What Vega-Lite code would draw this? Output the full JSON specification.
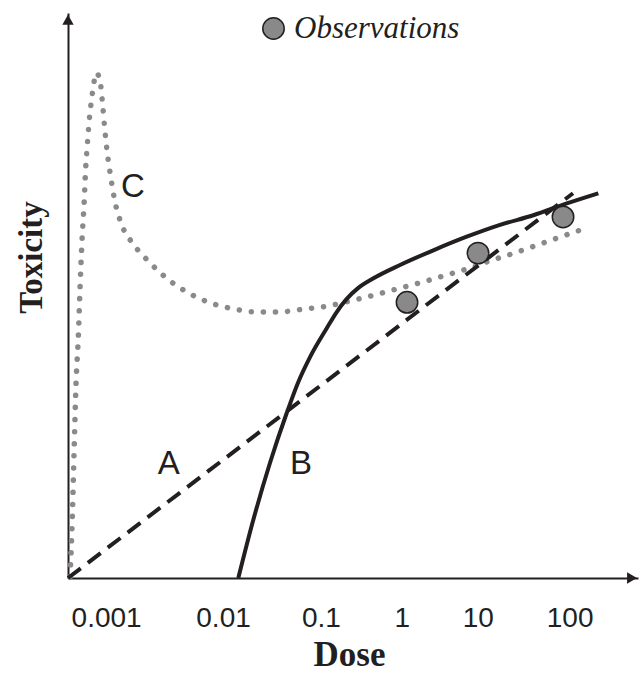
{
  "$schema": "https://vega.github.io/schema/vega-lite/v6.json",
  "width": 570,
  "height": 565,
  "autosize": {"type": "none"},
  "padding": {"left": 68, "top": 13, "right": 1, "bottom": 95},
  "background": "white",
  "config": {"view": {"stroke": null}, "axis": {"grid": false}},
  "datasets": {
    "curveA": [
      {"dose": 0.000267, "tox": 0},
      {"dose": 96.0, "tox": 68.1}
    ],
    "curveB": [
      {"dose": 0.01996, "tox": 0},
      {"dose": 0.0292, "tox": 10.3},
      {"dose": 0.04458, "tox": 20.4},
      {"dose": 0.06804, "tox": 29.2},
      {"dose": 0.09128, "tox": 34.7},
      {"dose": 0.1228, "tox": 39.1},
      {"dose": 0.1875, "tox": 44.2},
      {"dose": 0.2372, "tox": 46.9},
      {"dose": 0.311, "tox": 49.4},
      {"dose": 0.4142, "tox": 51.3},
      {"dose": 0.6055, "tox": 53.0},
      {"dose": 1.2, "tox": 55.4},
      {"dose": 2.79, "tox": 58.0},
      {"dose": 6.501, "tox": 60.4},
      {"dose": 15.11, "tox": 62.5},
      {"dose": 35.13, "tox": 64.2},
      {"dose": 81.88, "tox": 66.3},
      {"dose": 182.3, "tox": 68.1}
    ],
    "curveC": [
      {"dose": 0.000281, "tox": 0.2},
      {"dose": 0.000298, "tox": 10.8},
      {"dose": 0.000313, "tox": 23.7},
      {"dose": 0.000327, "tox": 34.3},
      {"dose": 0.000347, "tox": 42.8},
      {"dose": 0.000362, "tox": 51.3},
      {"dose": 0.000381, "tox": 59.8},
      {"dose": 0.000401, "tox": 66.2},
      {"dose": 0.000418, "tox": 72.6},
      {"dose": 0.000436, "tox": 76.8},
      {"dose": 0.000458, "tox": 81.1},
      {"dose": 0.000491, "tox": 85.3},
      {"dose": 0.000512, "tox": 87.4},
      {"dose": 0.000547, "tox": 89.4},
      {"dose": 0.000601, "tox": 88.0},
      {"dose": 0.000643, "tox": 83.7},
      {"dose": 0.000677, "tox": 79.5},
      {"dose": 0.000723, "tox": 75.2},
      {"dose": 0.000788, "tox": 71.0},
      {"dose": 0.000872, "tox": 66.8},
      {"dose": 0.001031, "tox": 62.7},
      {"dose": 0.001397, "tox": 59.1},
      {"dose": 0.0021, "tox": 55.9},
      {"dose": 0.00328, "tox": 53.0},
      {"dose": 0.00545, "tox": 50.6},
      {"dose": 0.00943, "tox": 48.8},
      {"dose": 0.01689, "tox": 47.7},
      {"dose": 0.031, "tox": 47.1},
      {"dose": 0.057, "tox": 47.1},
      {"dose": 0.1047, "tox": 47.6},
      {"dose": 0.1875, "tox": 48.1},
      {"dose": 0.3531, "tox": 49.1},
      {"dose": 0.637, "tox": 50.1},
      {"dose": 1.132, "tox": 51.2},
      {"dose": 2.043, "tox": 52.3},
      {"dose": 3.659, "tox": 53.5},
      {"dose": 6.501, "tox": 54.7},
      {"dose": 11.53, "tox": 56.1},
      {"dose": 20.64, "tox": 57.4},
      {"dose": 36.67, "tox": 58.8},
      {"dose": 65.19, "tox": 60.2},
      {"dose": 116.7, "tox": 61.6}
    ],
    "observations": [
      {"dose": 1.433, "tox": 48.8, "series": "Observations"},
      {"dose": 8.656, "tox": 57.5, "series": "Observations"},
      {"dose": 74.56, "tox": 63.9, "series": "Observations"}
    ],
    "labels": [
      {"dose": 0.001387, "tox": 69.2, "label": "C"},
      {"dose": 0.003424, "tox": 20.2, "label": "A"},
      {"dose": 0.0977, "tox": 20.1, "label": "B"}
    ],
    "yArrow": [{"dose": 0.000267, "tox": 98.8}],
    "xArrow": [{"dose": 428, "tox": 0}]
  },
  "encoding": {
    "x": {
      "field": "dose",
      "type": "quantitative",
      "scale": {"type": "log", "domain": [0.000267, 498], "nice": false},
      "axis": {
        "title": "Dose",
        "values": [0.001, 0.01, 0.1, 1, 10, 100],
        "labelExpr": "datum.value >= 1 ? format(datum.value, 'd') : format(datum.value, '.1~r')",
        "ticks": false,
        "tickSize": 0,
        "domainColor": "#231f20",
        "domainWidth": 2,
        "labelFont": "Liberation Sans",
        "labelFontSize": 28,
        "labelColor": "#231f20",
        "labelBaseline": "alphabetic",
        "labelPadding": 48,
        "labelFlush": false,
        "labelOverlap": false,
        "labelOffset": {
          "condition": [
            {"test": "datum.value < 0.005", "value": -14},
            {"test": "datum.value < 0.05", "value": 12},
            {"test": "datum.value < 0.5", "value": 19},
            {"test": "datum.value < 5", "value": 9},
            {"test": "datum.value < 50", "value": -6}
          ],
          "value": -5
        },
        "titleFont": "Liberation Serif",
        "titleFontWeight": "bold",
        "titleFontSize": 35,
        "titleColor": "#231f20",
        "titleBaseline": "alphabetic",
        "titleAnchor": "start",
        "titleAlign": "center",
        "titleX": 281,
        "titleY": 87
      }
    },
    "y": {
      "field": "tox",
      "type": "quantitative",
      "scale": {"domain": [0, 100], "nice": false},
      "axis": {
        "title": "Toxicity",
        "labels": false,
        "ticks": false,
        "tickSize": 0,
        "domainColor": "#231f20",
        "domainWidth": 2,
        "titleFont": "Liberation Serif",
        "titleFontWeight": "bold",
        "titleFontSize": 33,
        "titleColor": "#231f20",
        "titleAngle": -90,
        "titleBaseline": "alphabetic",
        "titleAlign": "center",
        "titleAnchor": "start",
        "titleX": -27,
        "titleY": 244
      }
    }
  },
  "layer": [
    {
      "data": {"name": "curveC"},
      "mark": {"type": "line", "color": "#8a8a8a", "strokeWidth": 5.5, "strokeCap": "round", "strokeDash": [0.1, 12], "interpolate": "monotone", "clip": false}
    },
    {
      "data": {"name": "curveA"},
      "mark": {"type": "line", "color": "#231f20", "strokeWidth": 4, "strokeDash": [16, 9]}
    },
    {
      "data": {"name": "curveB"},
      "mark": {"type": "line", "color": "#231f20", "strokeWidth": 4, "interpolate": "monotone"}
    },
    {
      "data": {"name": "observations"},
      "mark": {"type": "point", "filled": true, "shape": "circle", "size": 460, "stroke": "#231f20", "strokeWidth": 1.5, "opacity": 1},
      "encoding": {
        "color": {
          "field": "series",
          "type": "nominal",
          "scale": {"range": ["#898989"]},
          "legend": {
            "orient": "none",
            "legendX": 190,
            "legendY": 0,
            "title": null,
            "padding": 0,
            "symbolType": "circle",
            "symbolSize": 460,
            "symbolStrokeColor": "#231f20",
            "symbolStrokeWidth": 1.5,
            "symbolOpacity": 1,
            "labelFont": "Liberation Serif",
            "labelFontStyle": "italic",
            "labelFontSize": 31,
            "labelColor": "#231f20",
            "labelOffset": 5,
            "labelLimit": 400
          }
        }
      }
    },
    {
      "data": {"name": "labels"},
      "mark": {"type": "text", "font": "Liberation Sans", "fontSize": 33, "color": "#231f20", "align": "center", "baseline": "middle"},
      "encoding": {"text": {"field": "label"}}
    },
    {
      "data": {"name": "yArrow"},
      "mark": {"type": "point", "shape": "triangle-up", "filled": true, "size": 130, "color": "#231f20", "opacity": 1}
    },
    {
      "data": {"name": "xArrow"},
      "mark": {"type": "point", "shape": "triangle-right", "filled": true, "size": 130, "color": "#231f20", "opacity": 1}
    }
  ]
}
